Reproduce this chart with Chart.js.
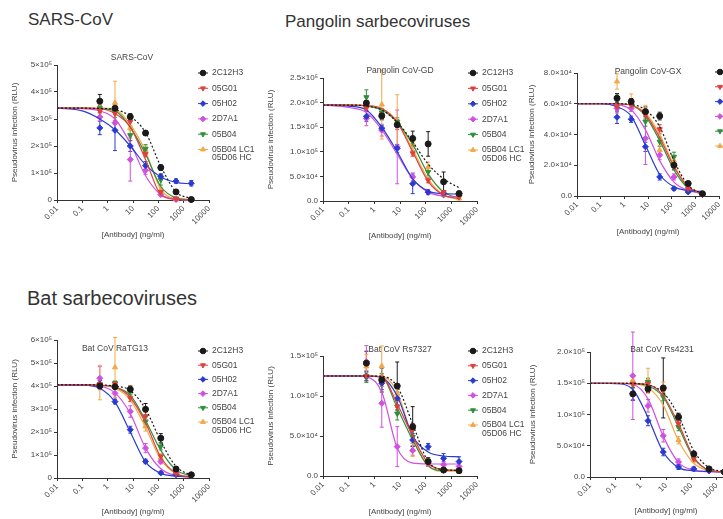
<!DOCTYPE html>
<html><head><meta charset="utf-8">
<script src="https://cdn.jsdelivr.net/npm/chart.js@4.4.0/dist/chart.umd.min.js"></script>
<style>
html,body{margin:0;padding:0;width:723px;height:519px;overflow:hidden;background:#fff;font-family:"Liberation Sans",Arial,sans-serif}
.hdr{position:absolute;color:#333;white-space:nowrap}
canvas{position:absolute}
</style></head><body>
<div class="hdr" style="left:28px;top:11px;font-size:17px;line-height:18px">SARS-CoV</div>
<div class="hdr" style="left:285px;top:13px;font-size:17px;line-height:18px">Pangolin sarbecoviruses</div>
<div class="hdr" style="left:27px;top:288px;font-size:20px;line-height:20px">Bat sarbecoviruses</div>
<script>
// ---------- shared data ----------
const concentrations = [0.49, 1.95, 7.8, 31.25, 125, 500, 2000];
const fitConcentrations = [0.01, 0.1, 0.49, 1.95, 7.8, 31.25, 125, 500, 2000];
const xTickValues = [0.01, 0.1, 1, 10, 100, 1000, 10000];
const xTickLabels = ['0.01', '0.1', '1', '10', '100', '1000', '10000'];
const antibodies = ['2C12H3', '05G01', '05H02', '2D7A1', '05B04', '05B04 LC1\n05D06 HC'];

// ---------- SARS-CoV (units of 1e5 RLU) ----------
const sarsYTicks = [0, 1, 2, 3, 4, 5];
const sarsYLabels = ['0', '1×10⁵', '2×10⁵', '3×10⁵', '4×10⁵', '5×10⁵'];
const sarsMeans = [
  [3.66, 3.40, 3.08, 2.48, 1.20, 0.30, 0.02],
  [3.30, 3.20, 2.90, 1.70, 0.30, 0.05, 0.01],
  [2.67, 2.58, 2.00, 1.27, 0.87, 0.70, 0.62],
  [3.07, 2.86, 1.50, 1.10, 0.20, 0.02, 0.00],
  [3.40, 3.25, 2.40, 1.90, 0.75, 0.05, 0.02],
  [3.40, 3.60, 2.67, 1.86, 0.37, 0.02, 0.00]];
const sarsErrors = [
  [0.25, 0.15, 0.12, 0.08, 0.10, 0.05, 0.02],
  [0.20, 0.25, 0.15, 0.10, 0.05, 0.02, 0.01],
  [0.25, 0.75, 0.20, 0.15, 0.10, 0.08, 0.10],
  [0.15, 0.30, 0.80, 0.15, 0.05, 0.02, 0.01],
  [0.15, 0.20, 0.20, 0.15, 0.20, 0.03, 0.02],
  [0.20, 0.80, 0.30, 0.15, 0.10, 0.02, 0.01]];
const sarsFits = [
  [3.40, 3.40, 3.39, 3.35, 3.10, 2.50, 1.25, 0.30, 0.05],
  [3.40, 3.40, 3.38, 3.20, 2.70, 1.50, 0.20, 0.02, 0.00],
  [3.40, 3.30, 3.00, 2.60, 2.00, 1.30, 0.85, 0.65, 0.60],
  [3.40, 3.38, 3.30, 3.00, 2.10, 0.90, 0.20, 0.03, 0.00],
  [3.40, 3.40, 3.38, 3.30, 2.70, 1.70, 0.50, 0.08, 0.01],
  [3.40, 3.40, 3.40, 3.35, 2.80, 1.80, 0.40, 0.05, 0.00]];

// ---------- Pangolin CoV-GD (units of 1e5) ----------
const gdYTicks = [0, 0.5, 1, 1.5, 2, 2.5];
const gdYLabels = ['0.0', '5.0×10⁴', '1.0×10⁵', '1.5×10⁵', '2.0×10⁵', '2.5×10⁵'];
const gdMeans = [
  [1.99, 1.73, 1.55, 1.27, 1.16, 0.39, 0.15],
  [1.89, 1.75, 1.55, 0.97, 0.42, 0.18, 0.08],
  [1.72, 1.48, 1.07, 0.35, 0.18, 0.16, 0.15],
  [1.68, 1.44, 1.10, 0.49, 0.18, 0.14, 0.12],
  [2.11, 1.80, 1.61, 1.24, 0.59, 0.12, 0.08],
  [1.92, 1.96, 1.61, 1.17, 0.69, 0.12, 0.05]];
const gdErrors = [
  [0.05, 0.08, 0.06, 0.15, 0.25, 0.20, 0.05],
  [0.05, 0.05, 0.10, 0.06, 0.05, 0.03, 0.02],
  [0.10, 0.06, 0.08, 0.20, 0.05, 0.05, 0.03],
  [0.15, 0.12, 0.75, 0.08, 0.05, 0.04, 0.03],
  [0.15, 0.08, 0.08, 0.08, 0.08, 0.03, 0.02],
  [0.05, 0.70, 0.55, 0.10, 0.10, 0.03, 0.02]];
const gdFits = [
  [1.95, 1.95, 1.93, 1.85, 1.60, 1.20, 0.75, 0.45, 0.27],
  [1.95, 1.95, 1.94, 1.88, 1.60, 1.00, 0.40, 0.12, 0.05],
  [1.95, 1.93, 1.85, 1.50, 1.00, 0.45, 0.20, 0.15, 0.14],
  [1.95, 1.90, 1.80, 1.45, 0.95, 0.45, 0.18, 0.10, 0.08],
  [1.95, 1.95, 1.93, 1.85, 1.60, 1.15, 0.55, 0.18, 0.06],
  [1.95, 1.95, 1.94, 1.88, 1.62, 1.05, 0.45, 0.12, 0.03]];

// ---------- Pangolin CoV-GX (units of 1e4) ----------
const gxYTicks = [0, 2, 4, 6, 8];
const gxYLabels = ['0.0', '2.0×10⁴', '4.0×10⁴', '6.0×10⁴', '8.0×10⁴'];
const gxMeans = [
  [6.36, 6.14, 5.49, 5.20, 2.00, 0.81, 0.15],
  [5.80, 5.93, 5.27, 4.34, 2.00, 0.48, 0.10],
  [5.12, 4.99, 3.20, 1.24, 0.48, 0.26, 0.10],
  [5.70, 5.70, 3.75, 2.66, 1.24, 0.37, 0.10],
  [6.36, 5.93, 4.84, 3.53, 2.55, 0.37, 0.10],
  [7.45, 6.14, 5.60, 2.98, 2.30, 0.60, 0.10]];
const gxErrors = [
  [0.30, 0.20, 0.30, 0.25, 0.30, 0.15, 0.05],
  [0.20, 0.20, 0.25, 0.30, 0.25, 0.10, 0.05],
  [0.40, 0.20, 0.30, 0.20, 0.10, 0.05, 0.05],
  [0.30, 0.20, 1.70, 0.30, 0.20, 0.10, 0.05],
  [0.20, 0.20, 0.30, 0.30, 0.30, 0.10, 0.05],
  [0.50, 0.50, 0.30, 0.30, 0.30, 0.10, 0.05]];
const gxFits = [
  [6.0, 6.0, 6.0, 5.95, 5.6, 4.5, 2.3, 0.7, 0.15],
  [6.0, 6.0, 6.0, 5.9, 5.3, 3.8, 1.9, 0.6, 0.15],
  [6.0, 6.0, 5.8, 5.2, 3.3, 1.4, 0.6, 0.35, 0.3],
  [6.0, 6.0, 5.95, 5.6, 4.3, 2.3, 0.9, 0.35, 0.2],
  [6.0, 6.0, 6.0, 5.9, 5.2, 3.6, 1.7, 0.5, 0.12],
  [6.0, 6.0, 6.0, 5.9, 5.4, 4.0, 2.0, 0.55, 0.12]];

// ---------- Bat CoV RaTG13 (units of 1e5) ----------
const ratgYTicks = [0, 1, 2, 3, 4, 5, 6];
const ratgYLabels = ['0', '1×10⁵', '2×10⁵', '3×10⁵', '4×10⁵', '5×10⁵', '6×10⁵'];
const ratgMeans = [
  [4.00, 3.97, 3.86, 2.99, 1.73, 0.39, 0.14],
  [4.09, 4.09, 3.47, 2.67, 0.94, 0.20, 0.12],
  [4.09, 3.32, 2.10, 0.72, 0.22, 0.14, 0.10],
  [4.34, 3.68, 2.89, 1.30, 0.72, 0.19, 0.14],
  [4.05, 4.12, 3.76, 2.46, 1.37, 0.36, 0.14],
  [4.15, 4.81, 3.80, 2.24, 0.87, 0.29, 0.14]];
const ratgErrors = [
  [0.10, 0.10, 0.15, 0.25, 0.20, 0.08, 0.04],
  [0.15, 0.10, 0.15, 0.20, 0.10, 0.05, 0.03],
  [0.15, 0.10, 0.15, 0.10, 0.05, 0.03, 0.03],
  [0.50, 0.20, 0.25, 0.20, 0.10, 0.05, 0.03],
  [0.10, 0.10, 0.15, 0.20, 0.15, 0.05, 0.03],
  [0.75, 1.30, 0.20, 0.20, 0.15, 0.05, 0.03]];
const ratgFits = [
  [4.05, 4.05, 4.04, 4.00, 3.80, 3.00, 1.60, 0.50, 0.12],
  [4.05, 4.05, 4.03, 3.95, 3.50, 2.40, 0.90, 0.20, 0.04],
  [4.05, 4.04, 3.90, 3.30, 2.00, 0.70, 0.20, 0.08, 0.05],
  [4.05, 4.05, 4.00, 3.70, 2.80, 1.30, 0.40, 0.10, 0.03],
  [4.05, 4.05, 4.03, 3.95, 3.60, 2.50, 1.20, 0.35, 0.10],
  [4.05, 4.05, 4.03, 3.90, 3.40, 2.20, 0.80, 0.20, 0.05]];

// ---------- Bat CoV Rs7327 (units of 1e4) ----------
const rs7327YTicks = [0, 5, 10, 15];
const rs7327YLabels = ['0.0', '5.0×10⁴', '1.0×10⁵', '1.5×10⁵'];
const rs7327Means = [
  [14.1, 12.0, 11.25, 6.17, 1.80, 0.75, 0.67],
  [12.5, 12.0, 8.67, 5.75, 1.67, 0.70, 0.67],
  [12.5, 11.6, 9.70, 4.50, 3.67, 2.20, 1.80],
  [14.3, 9.10, 3.67, 3.20, 1.60, 1.40, 1.20],
  [12.3, 12.0, 7.80, 4.90, 1.80, 0.75, 0.67],
  [13.7, 13.75, 10.3, 3.25, 1.80, 0.95, 0.55]];
const rs7327Errors = [
  [1.5, 1.5, 3.0, 2.5, 0.5, 0.3, 0.3],
  [0.6, 0.6, 0.8, 0.8, 0.4, 0.2, 0.2],
  [0.6, 0.8, 0.8, 0.8, 0.4, 0.6, 0.6],
  [2.0, 3.0, 2.5, 0.6, 0.4, 0.4, 0.4],
  [0.6, 0.8, 0.8, 0.8, 0.4, 0.3, 0.2],
  [1.5, 2.5, 1.0, 0.8, 0.4, 0.3, 0.2]];
const rs7327Fits = [
  [12.5, 12.5, 12.5, 12.45, 11.2, 6.5, 1.8, 0.8, 0.7],
  [12.5, 12.5, 12.5, 12.4, 9.0, 5.0, 1.6, 0.8, 0.7],
  [12.5, 12.5, 12.5, 12.3, 10.0, 5.0, 3.0, 2.5, 2.4],
  [12.5, 12.5, 12.4, 10.5, 3.5, 1.6, 1.5, 1.5, 1.5],
  [12.5, 12.5, 12.5, 12.4, 8.5, 4.5, 1.3, 0.7, 0.7],
  [12.5, 12.5, 12.5, 12.45, 10.5, 4.8, 1.2, 0.6, 0.6]];

// ---------- Bat CoV Rs4231 (units of 1e4) ----------
const rs4231YTicks = [0, 5, 10, 15, 20];
const rs4231YLabels = ['0.0', '5.0×10⁴', '1.0×10⁵', '1.5×10⁵', '2.0×10⁵'];
const rs4231Means = [
  [13.3, 14.1, 14.25, 9.6, 3.7, 1.3, 0.8],
  [14.9, 14.9, 13.8, 8.5, 2.9, 1.3, 0.8],
  [13.3, 9.0, 4.0, 1.6, 1.3, 1.0, 0.8],
  [16.2, 11.4, 6.6, 2.4, 1.3, 1.0, 0.8],
  [14.9, 15.2, 12.8, 8.0, 3.2, 1.3, 0.8],
  [15.4, 15.4, 14.4, 5.9, 2.7, 1.2, 0.8]];
const rs4231Errors = [
  [1.0, 0.6, 4.8, 0.6, 0.4, 0.3, 0.2],
  [0.5, 0.8, 0.6, 0.6, 0.4, 0.2, 0.2],
  [1.0, 0.8, 0.6, 0.4, 0.3, 0.2, 0.2],
  [7.0, 1.0, 1.0, 0.5, 0.3, 0.2, 0.2],
  [0.6, 0.6, 0.6, 0.6, 0.4, 0.2, 0.2],
  [0.8, 2.0, 0.8, 0.6, 0.4, 0.2, 0.2]];
const rs4231Fits = [
  [15, 15, 14.95, 14.7, 13.5, 9.8, 4.2, 1.5, 0.9],
  [15, 15, 14.95, 14.8, 13.0, 8.5, 3.2, 1.1, 0.8],
  [15, 14.95, 14.0, 9.5, 4.0, 1.5, 1.0, 0.9, 0.85],
  [15, 15, 14.8, 12.5, 6.5, 2.3, 1.1, 0.85, 0.8],
  [15, 15, 14.95, 14.6, 12.8, 8.0, 3.0, 1.1, 0.8],
  [15, 15, 14.9, 14.3, 11.5, 5.8, 2.2, 1.0, 0.8]];

// ---------- styles ----------
const FONT = "'Liberation Sans', Arial, sans-serif";
const TXT = '#444';
const TICK_SIZE = 8;
const seriesColors = ['#1a1a1a', '#e0403a', '#2a3bd0', '#d050e0', '#2f8f3a', '#f2a84a'];
const seriesPoint = [
  {style: 'circle', rot: 0}, {style: 'triangle', rot: 180}, {style: 'rectRot', rot: 0},
  {style: 'rectRot', rot: 0}, {style: 'triangle', rot: 180}, {style: 'triangle', rot: 0}];
const seriesDash = [[2, 2], [], [], [], [], []];

const errorBarPlugin = {
  id: 'errorBars',
  beforeDatasetsDraw(chart) {
    const ctx = chart.ctx, ys = chart.scales.y;
    chart.data.datasets.forEach((ds, i) => {
      if (!ds.errors) return;
      const meta = chart.getDatasetMeta(i);
      ctx.save();
      ctx.strokeStyle = ds.borderColor; ctx.lineWidth = 1;
      meta.data.forEach((el, j) => {
        const e = ds.errors[j]; if (!e) return;
        const v = ds.data[j].y;
        const y0 = ys.getPixelForValue(Math.max(v - e, 0)), y1 = ys.getPixelForValue(v + e);
        ctx.beginPath();
        ctx.moveTo(el.x, y0); ctx.lineTo(el.x, y1);
        ctx.moveTo(el.x - 2, y0); ctx.lineTo(el.x + 2, y0);
        ctx.moveTo(el.x - 2, y1); ctx.lineTo(el.x + 2, y1);
        ctx.stroke();
      });
      ctx.restore();
    });
  }
};

function decoPlugin(cfg) {
  return {
    id: 'deco',
    afterDraw(chart) {
      const ctx = chart.ctx;
      ctx.save();
      ctx.fillStyle = TXT;
      ctx.font = '8.5px ' + FONT;
      ctx.textAlign = 'center'; ctx.textBaseline = 'middle';
      ctx.fillText(cfg.title, cfg.titleX - cfg.left, cfg.titleY - cfg.top);
      ctx.textAlign = 'left';
      ctx.font = '8.5px ' + FONT;
      antibodies.forEach((name, i) => {
        const x = cfg.legendX - cfg.left, y = cfg.legendY - cfg.top + i * cfg.legendStep;
        ctx.strokeStyle = seriesColors[i]; ctx.lineWidth = 1;
        ctx.beginPath(); ctx.moveTo(x - 5, y); ctx.lineTo(x + 5, y); ctx.stroke();
        ctx.fillStyle = seriesColors[i];
        Chart.helpers.drawPoint(ctx, {pointStyle: seriesPoint[i].style, rotation: seriesPoint[i].rot, radius: 2.8, borderWidth: 1}, x, y);
        ctx.fillStyle = TXT;
        name.split('\n').forEach((line, k) => ctx.fillText(line, x + 9, y + k * 8.5));
      });
      ctx.restore();
    }
  };
}

function makePanel(cfg) {
  const left = cfg.plotL - cfg.yW, top = cfg.plotT - cfg.padTop;
  const width = cfg.plotR + cfg.padRight - left, height = cfg.plotB + cfg.xH - top;
  cfg.left = left; cfg.top = top;
  const cv = document.createElement('canvas');
  cv.width = width; cv.height = height;
  cv.style.left = left + 'px'; cv.style.top = top + 'px';
  cv.style.width = width + 'px'; cv.style.height = height + 'px';
  document.body.appendChild(cv);
  const datasets = [];
  antibodies.forEach((name, i) => {
    datasets.push({
      type: 'line', label: name + ' fit',
      data: fitConcentrations.map((x, j) => ({x, y: cfg.fits[i][j] * cfg.unit})),
      borderColor: seriesColors[i], borderWidth: 1.2, borderDash: seriesDash[i],
      pointRadius: 0, cubicInterpolationMode: 'monotone', fill: false, clip: false
    });
    datasets.push({
      type: 'scatter', label: name,
      data: concentrations.map((x, j) => ({x, y: cfg.means[i][j] * cfg.unit})),
      errors: cfg.errors[i].map(e => e * cfg.unit),
      borderColor: seriesColors[i], backgroundColor: seriesColors[i],
      pointStyle: seriesPoint[i].style, rotation: seriesPoint[i].rot,
      pointRadius: 3, borderWidth: 1, showLine: false, clip: false
    });
  });
  const yVals = cfg.yTicks.map(v => v * cfg.unit);
  new Chart(cv.getContext('2d'), {
    type: 'scatter',
    data: {datasets},
    options: {
      responsive: false, animation: false, devicePixelRatio: 1,
      layout: {padding: {left: 0, top: cfg.padTop, right: cfg.padRight, bottom: 0}},
      plugins: {legend: {display: false}, tooltip: {enabled: false}},
      scales: {
        x: {
          type: 'logarithmic', position: 'bottom', min: 0.01, max: 10000,
          afterBuildTicks: s => { s.ticks = xTickValues.map(v => ({value: v})); },
          afterFit: s => { s.height = cfg.xH; },
          ticks: {autoSkip: false, minRotation: 45, maxRotation: 45, padding: 1,
            font: {size: TICK_SIZE, family: FONT}, color: TXT,
            callback: v => { const k = xTickValues.findIndex(t => Math.abs(Math.log10(t / v)) < 1e-6); return k >= 0 ? xTickLabels[k] : ''; }},
          grid: {display: true, drawOnChartArea: false, drawTicks: true, tickLength: 3, color: '#333'},
          border: {display: true, color: '#333', width: 1},
          title: {display: true, text: '[Antibody] (ng/ml)', font: {size: 8, family: FONT}, color: TXT, padding: 0}
        },
        y: {
          type: 'linear', position: 'left', min: 0, max: yVals[yVals.length - 1],
          afterBuildTicks: s => { s.ticks = yVals.map(v => ({value: v})); },
          afterFit: s => { s.width = cfg.yW; },
          ticks: {autoSkip: false, padding: 2, font: {size: TICK_SIZE, family: FONT}, color: TXT,
            callback: v => { const k = yVals.findIndex(t => Math.abs(t - v) < 1e-6 * cfg.unit); return k >= 0 ? cfg.yLabels[k] : ''; }},
          grid: {display: true, drawOnChartArea: false, drawTicks: true, tickLength: 3, color: '#333'},
          border: {display: true, color: '#333', width: 1},
          title: {display: true, text: 'Pseudovirus infection (RLU)', font: {size: 8, family: FONT}, color: TXT, padding: 0}
        }
      }
    },
    plugins: [errorBarPlugin, decoPlugin(cfg)]
  });
}

makePanel({title: 'SARS-CoV', unit: 1e5, yTicks: sarsYTicks, yLabels: sarsYLabels, means: sarsMeans, errors: sarsErrors, fits: sarsFits,
  plotL: 57, plotR: 209, plotT: 65, plotB: 200, yW: 47, xH: 40, padTop: 25, padRight: 60,
  titleX: 132, titleY: 58, legendX: 203, legendY: 73, legendStep: 15.3});
makePanel({title: 'Pangolin CoV-GD', unit: 1e5, yTicks: gdYTicks, yLabels: gdYLabels, means: gdMeans, errors: gdErrors, fits: gdFits,
  plotL: 323, plotR: 477, plotT: 78, plotB: 201, yW: 57, xH: 40, padTop: 25, padRight: 60,
  titleX: 400, titleY: 71, legendX: 473, legendY: 73, legendStep: 15.4});
makePanel({title: 'Pangolin CoV-GX', unit: 1e4, yTicks: gxYTicks, yLabels: gxYLabels, means: gxMeans, errors: gxErrors, fits: gxFits,
  plotL: 577, plotR: 719, plotT: 73, plotB: 196, yW: 50, xH: 41, padTop: 25, padRight: 60,
  titleX: 648, titleY: 72, legendX: 720, legendY: 72, legendStep: 14.8});
makePanel({title: 'Bat CoV RaTG13', unit: 1e5, yTicks: ratgYTicks, yLabels: ratgYLabels, means: ratgMeans, errors: ratgErrors, fits: ratgFits,
  plotL: 57, plotR: 209, plotT: 340, plotB: 478, yW: 47, xH: 39, padTop: 25, padRight: 60,
  titleX: 115, titleY: 349, legendX: 203, legendY: 351, legendStep: 14.2});
makePanel({title: 'Bat CoV Rs7327', unit: 1e4, yTicks: rs7327YTicks, yLabels: rs7327YLabels, means: rs7327Means, errors: rs7327Errors, fits: rs7327Fits,
  plotL: 323, plotR: 477, plotT: 356, plotB: 476, yW: 57, xH: 41, padTop: 25, padRight: 60,
  titleX: 400, titleY: 350, legendX: 473, legendY: 351, legendStep: 14.8});
makePanel({title: 'Bat CoV Rs4231', unit: 1e4, yTicks: rs4231YTicks, yLabels: rs4231YLabels, means: rs4231Means, errors: rs4231Errors, fits: rs4231Fits,
  plotL: 590, plotR: 742, plotT: 352, plotB: 477, yW: 62, xH: 39, padTop: 25, padRight: 60,
  titleX: 662, titleY: 350, legendX: 750, legendY: 351, legendStep: 14.8});
</script>
</body></html>
